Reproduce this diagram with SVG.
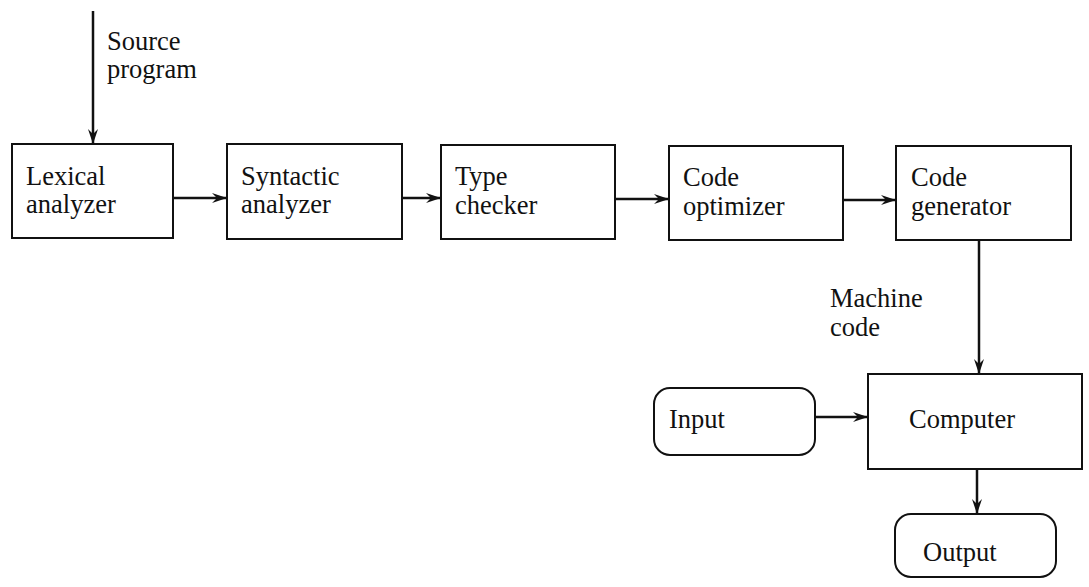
<svg xmlns="http://www.w3.org/2000/svg" width="1089" height="587" viewBox="0 0 1089 587">
<style>
.box{fill:#fff;stroke:#111;stroke-width:2}
.t{font-family:'Liberation Serif','Times New Roman',Times,'DejaVu Serif',serif;font-size:26.5px;fill:#111}
.c{fill:none;stroke:#111;stroke-width:2.5}
</style>
<defs>
<marker id="ah" markerUnits="userSpaceOnUse" markerWidth="16" markerHeight="12" refX="15" refY="6" orient="auto">
<path d="M0,1 L15,6 L0,11 L5,6 Z" fill="#111"/>
</marker>
</defs>
<rect width="1089" height="587" fill="#fff"/>
<g id="connectors">
<line class="c" x1="93" y1="11" x2="93" y2="144" marker-end="url(#ah)"/>
<line class="c" x1="173" y1="198" x2="227" y2="198" marker-end="url(#ah)"/>
<line class="c" x1="402" y1="198" x2="441" y2="198" marker-end="url(#ah)"/>
<line class="c" x1="615" y1="199" x2="669" y2="199" marker-end="url(#ah)"/>
<line class="c" x1="843" y1="200" x2="896" y2="200" marker-end="url(#ah)"/>
<line class="c" x1="979" y1="240" x2="979" y2="374" marker-end="url(#ah)"/>
<line class="c" x1="815" y1="417" x2="868" y2="417" marker-end="url(#ah)"/>
<line class="c" x1="977" y1="469" x2="977" y2="514" marker-end="url(#ah)"/>
<text class="t" font-family="Liberation Serif, serif" x="107" y="50">Source</text>
<text class="t" font-family="Liberation Serif, serif" x="107" y="78">program</text>
<text class="t" font-family="Liberation Serif, serif" x="830" y="307">Machine</text>
<text class="t" font-family="Liberation Serif, serif" x="830" y="336">code</text>
</g>
<g id="lexical">
<rect class="box" x="12" y="144" width="161" height="94"/>
<text class="t" x="26" y="185">Lexical</text>
<text class="t" x="26" y="213">analyzer</text>
</g>
<g id="syntactic">
<rect class="box" x="227" y="144" width="175" height="95"/>
<text class="t" x="241" y="185">Syntactic</text>
<text class="t" x="241" y="213">analyzer</text>
</g>
<g id="type">
<rect class="box" x="441" y="145" width="174" height="94"/>
<text class="t" x="455" y="185">Type</text>
<text class="t" x="455" y="214">checker</text>
</g>
<g id="optimizer">
<rect class="box" x="669" y="146" width="174" height="94"/>
<text class="t" x="683" y="186">Code</text>
<text class="t" x="683" y="215">optimizer</text>
</g>
<g id="generator">
<rect class="box" x="896" y="146" width="175" height="94"/>
<text class="t" x="911" y="186">Code</text>
<text class="t" x="911" y="215">generator</text>
</g>
<g id="computer">
<rect class="box" x="868" y="374" width="214" height="95"/>
<text class="t" x="909" y="428">Computer</text>
</g>
<g id="input">
<rect class="box" x="654" y="388" width="161" height="67" rx="16"/>
<text class="t" x="669" y="428">Input</text>
</g>
<g id="output">
<rect class="box" x="895" y="514" width="161" height="63" rx="16"/>
<text class="t" x="923" y="561">Output</text>
</g>
</svg>
